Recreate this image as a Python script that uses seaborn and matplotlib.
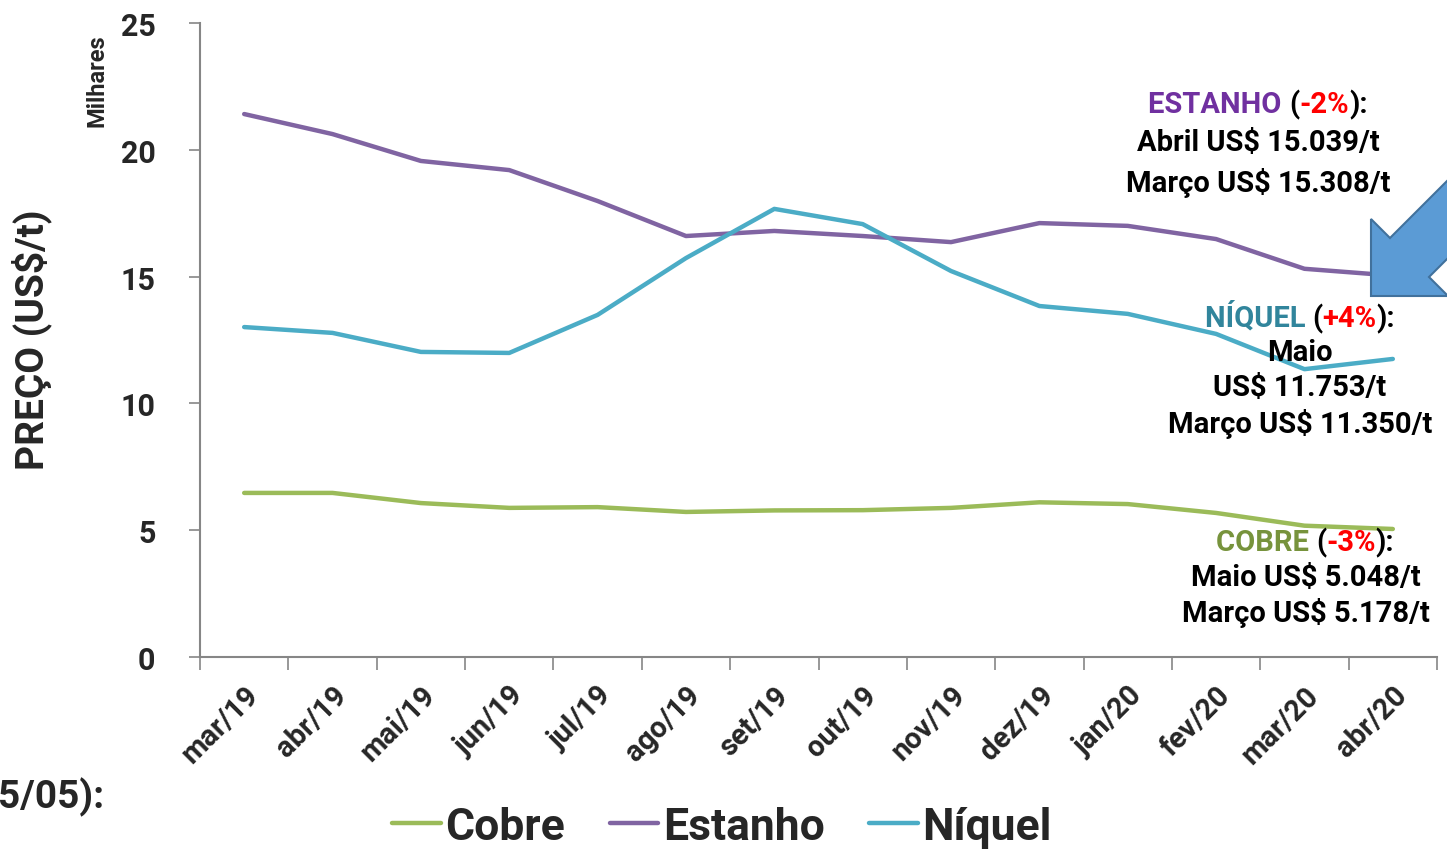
import numpy as np
import pandas as pd
import matplotlib
matplotlib.use("Agg")
import matplotlib.pyplot as plt
import seaborn as sns
from matplotlib.offsetbox import TextArea, HPacker, AnnotationBbox
from matplotlib.patches import Polygon

# dados (milhares de US$/t)
meses = ['mar/19', 'abr/19', 'mai/19', 'jun/19', 'jul/19', 'ago/19', 'set/19',
         'out/19', 'nov/19', 'dez/19', 'jan/20', 'fev/20', 'mar/20', 'abr/20']
cobre = [6.47, 6.47, 6.07, 5.88, 5.91, 5.72, 5.78, 5.79, 5.88, 6.10, 6.03, 5.68, 5.178, 5.048]
estanho = [21.41, 20.62, 19.56, 19.20, 17.98, 16.60, 16.80, 16.60, 16.36, 17.11, 17.00, 16.48, 15.308, 15.039]
niquel = [13.01, 12.78, 12.03, 11.99, 13.49, 15.73, 17.67, 17.07, 15.22, 13.84, 13.53, 12.74, 11.350, 11.753]

cores = {'Cobre': '#9BBB59', 'Estanho': '#8064A2', 'Níquel': '#4BACC6'}

df = pd.concat([
    pd.DataFrame({'pos': range(len(meses)), 'valor': cobre, 'Metal': 'Cobre'}),
    pd.DataFrame({'pos': range(len(meses)), 'valor': estanho, 'Metal': 'Estanho'}),
    pd.DataFrame({'pos': range(len(meses)), 'valor': niquel, 'Metal': 'Níquel'}),
])

sns.set_style('white')
plt.rcParams['font.family'] = ['Roboto', 'DejaVu Sans']
plt.rcParams['font.weight'] = 'bold'

W, H = 1447, 853
fig = plt.figure(figsize=(W / 100, H / 100), dpi=100)
ax = fig.add_axes([200 / W, 1 - 658 / H, 1237 / W, 634 / H])

sns.lineplot(data=df, x='pos', y='valor', hue='Metal', palette=cores,
             linewidth=3.2, ax=ax, legend=False)

ax.set_xlim(-0.5, len(meses) - 0.5)
ax.set_ylim(0, 25)
ax.set_yticks([0, 5, 10, 15, 20, 25])
ax.set_yticklabels(['0', '5', '10', '15', '20', '25'], fontsize=22, fontweight='bold')
ax.set_xticks(range(len(meses)))
ax.set_xticklabels(meses, rotation=45, ha='right', rotation_mode='anchor',
                   fontsize=21, fontweight='bold')
ax.set_xticks(np.arange(-0.5, len(meses) + 0.5, 1), minor=True)
ax.tick_params(axis='x', which='major', length=0, pad=17)
ax.tick_params(axis='x', which='minor', length=9, width=1.2, color='#868686', direction='out')
ax.tick_params(axis='y', length=8, width=1.2, color='#868686', direction='out', pad=24)
ax.tick_params(axis='x', which='both', bottom=True)
ax.tick_params(axis='y', left=True)
ax.set_xlabel('')
ax.set_ylabel('')
for lado in ['top', 'right']:
    ax.spines[lado].set_visible(False)
for lado in ['left', 'bottom']:
    ax.spines[lado].set_color('#868686')
    ax.spines[lado].set_linewidth(1.5)

fig.text(32 / W, 1 - 340 / H, 'PREÇO (US$/t)', rotation=90, ha='center', va='center',
         fontsize=28, fontweight='bold')
fig.text(97 / W, 1 - 81 / H, 'Milhares', rotation=90, ha='center', va='center',
         fontsize=17, fontweight='bold')
fig.text(-2 / W, 1 - 797 / H, '5/05):', ha='left', va='center',
         fontsize=28, fontweight='bold')

# legenda
handles = [plt.Line2D([], [], color=cores[m], lw=3.2) for m in cores]
fig.legend(handles, list(cores), loc='center', bbox_to_anchor=(722 / W, 1 - 828 / H),
           ncol=3, frameon=False, handlelength=1.1, handletextpad=0.1,
           columnspacing=1.0, prop={'size': 32, 'weight': 'bold'})


def linha(x, y, partes, size=21):
    areas = [TextArea(t, textprops=dict(color=c, fontsize=size, fontweight='bold'))
             for t, c in partes]
    box = HPacker(children=areas, pad=0, sep=0, align='baseline')
    ab = AnnotationBbox(box, (x / W, 1 - y / H), xycoords='figure fraction',
                        frameon=False, box_alignment=(0.5, 0.5), pad=0)
    fig.add_artist(ab)


k = '#000000'
r = '#FF0000'
linha(1258, 105, [('ESTANHO ', '#7030A0'), ('(', k), ('-2%', r), ('):', k)])
linha(1258, 143, [('Abril US$ 15.039/t', k)])
linha(1258, 183, [('Março US$ 15.308/t', k)])
linha(1300, 318, [('NÍQUEL ', '#31859C'), ('(', k), ('+4%', r), ('):', k)])
linha(1300, 353, [('Maio', k)])
linha(1300, 388, [('US$ 11.753/t', k)])
linha(1300, 424, [('Março US$ 11.350/t', k)])
linha(1305, 543, [('COBRE ', '#77933C'), ('(', k), ('-3%', r), ('):', k)])
linha(1306, 578, [('Maio US$ 5.048/t', k)])
linha(1306, 613, [('Março US$ 5.178/t', k)])

# seta azul
pts = [(1371, 297), (1371, 220), (1390, 239), (1490, 139), (1529, 178), (1429, 278), (1448, 297)]
seta = Polygon([(px / W, 1 - py / H) for px, py in pts], closed=True,
               transform=fig.transFigure, facecolor='#5B9BD5', edgecolor='#41719C',
               linewidth=1.5)
fig.add_artist(seta)

fig.savefig('out.png', dpi=100)
